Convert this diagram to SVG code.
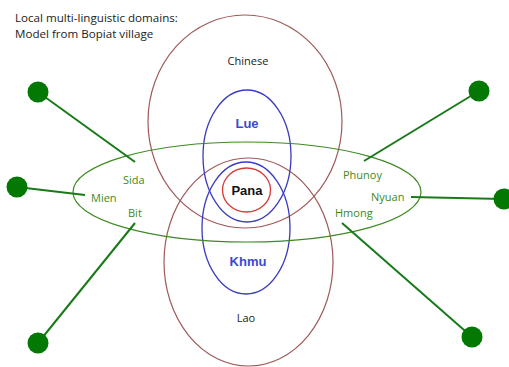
<svg xmlns="http://www.w3.org/2000/svg" width="509" height="367" viewBox="0 0 509 367">
<style>
.t{font-family:"Open Sans","Liberation Sans",sans-serif;font-size:11px;fill:#222}
.h{font-family:"Open Sans","Liberation Sans",sans-serif;font-size:11.6px;fill:#222}
.g{font-family:"Open Sans","Liberation Sans",sans-serif;font-size:11px;fill:#3d8a22}
.b{font-family:"Liberation Sans",Arial,sans-serif;font-size:13px;font-weight:bold;fill:#3a4ad0}
.k{font-family:"Liberation Sans",Arial,sans-serif;font-size:13px;font-weight:bold;fill:#111}
.brown{fill:none;stroke:#a05a5a;stroke-width:1.2}
.blue{fill:none;stroke:#3b3bc0;stroke-width:1.3}
.red{fill:none;stroke:#d83a3a;stroke-width:1.3}
.green{fill:none;stroke:#3d8a22;stroke-width:1.2}
.ln{stroke:#187a18;stroke-width:2;fill:none}
.dot{fill:#037803}
</style>
<rect width="509" height="367" fill="#fff"/>
<text class="h" x="15" y="22">Local multi-linguistic domains:</text>
<text class="h" x="15" y="38">Model from Bopiat village</text>
<g id="chinese"><ellipse class="brown" cx="245" cy="121.5" rx="97" ry="106.5"/><text class="t" x="248" y="65" text-anchor="middle">Chinese</text></g>
<g id="lao"><ellipse class="brown" cx="248.5" cy="262" rx="84.5" ry="104"/><text class="t" x="246" y="322" text-anchor="middle">Lao</text></g>
<g id="lue"><ellipse class="blue" cx="247" cy="156" rx="44" ry="66"/><text class="b" x="247" y="128" text-anchor="middle">Lue</text></g>
<g id="khmu"><ellipse class="blue" cx="246" cy="228" rx="44" ry="66"/><text class="b" x="248" y="266" text-anchor="middle">Khmu</text></g>
<g id="pana"><ellipse class="red" cx="246.5" cy="190" rx="24" ry="22"/><text class="k" x="247" y="195" text-anchor="middle">Pana</text></g>
<g id="minorities"><ellipse class="green" cx="247" cy="192" rx="174" ry="50"/>
<text class="g" x="123" y="184">Sida</text>
<text class="g" x="91" y="202">Mien</text>
<text class="g" x="128" y="217">Bit</text>
<text class="g" x="343" y="179">Phunoy</text>
<text class="g" x="371" y="201">Nyuan</text>
<text class="g" x="335" y="217">Hmong</text>
</g>
<g id="connectors">
<line class="ln" x1="38" y1="92" x2="135" y2="162"/>
<line class="ln" x1="17" y1="187" x2="85" y2="195"/>
<line class="ln" x1="38" y1="343" x2="135" y2="223"/>
<line class="ln" x1="479" y1="91" x2="364" y2="161"/>
<line class="ln" x1="503" y1="199" x2="411" y2="197"/>
<line class="ln" x1="472" y1="337" x2="342" y2="223"/>
</g>
<g id="dot-sida"><circle class="dot" cx="38" cy="92" r="10.5"/></g>
<g id="dot-mien"><circle class="dot" cx="17" cy="187" r="10.5"/></g>
<g id="dot-bit"><circle class="dot" cx="38" cy="343" r="10.5"/></g>
<g id="dot-phunoy"><circle class="dot" cx="479" cy="91" r="10.5"/></g>
<g id="dot-nyuan"><circle class="dot" cx="504" cy="199" r="10.5"/></g>
<g id="dot-hmong"><circle class="dot" cx="472" cy="337" r="10.5"/></g>
</svg>
